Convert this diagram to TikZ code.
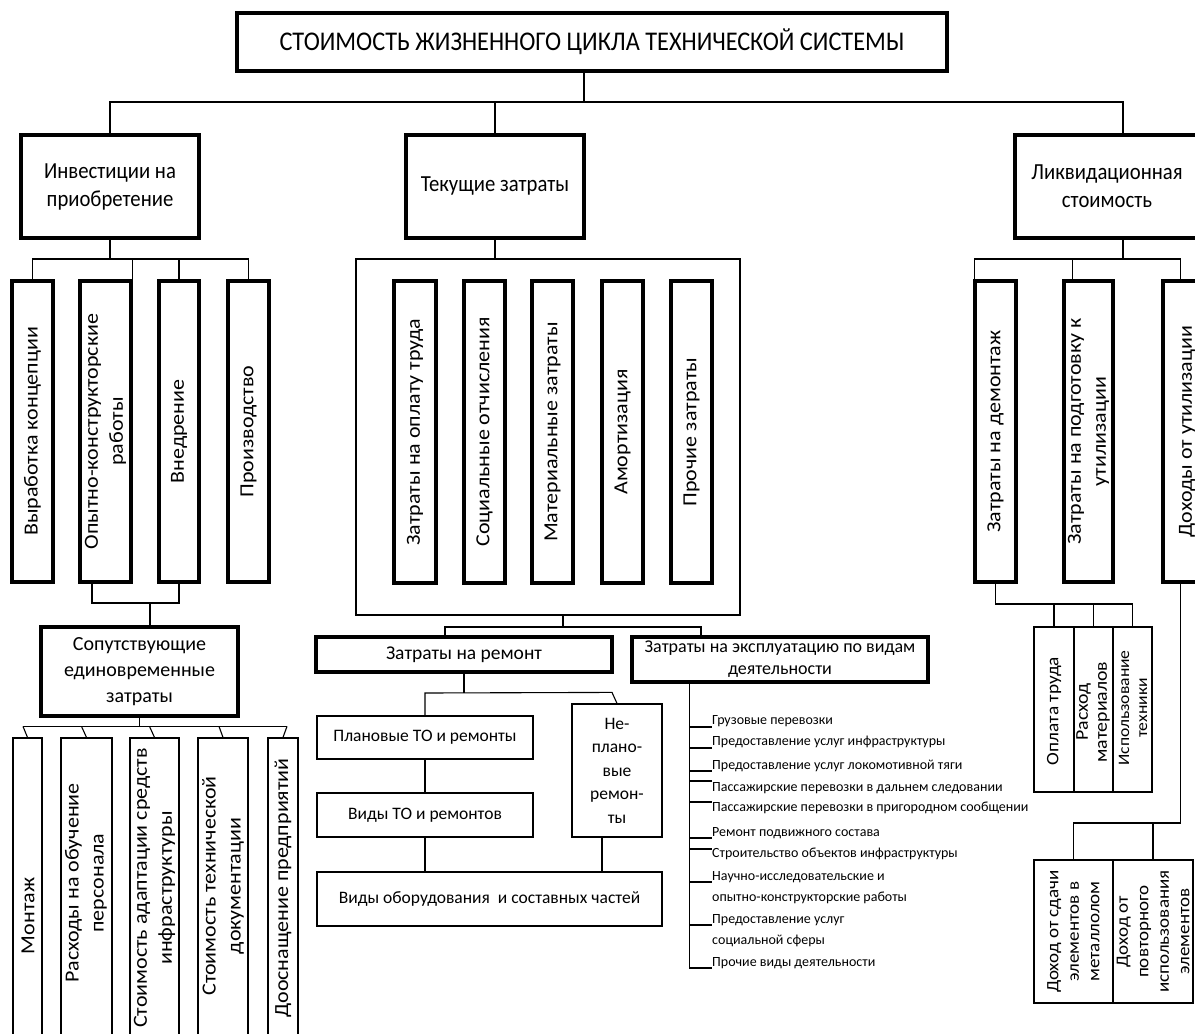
\documentclass[tikz,border=0pt]{standalone}
\usepackage{fontspec}
\usetikzlibrary{calc}
\setmainfont{Carlito}
\newfontfamily\vfam{Carlito}[FakeStretch=1.1]
\newfontfamily\hfam{Carlito}[FakeStretch=0.9]
\newcommand\fsz[2]{\fontsize{#1}{#2}\selectfont}
\tikzset{
  tb/.style={draw, line width=3.3pt, rectangle, inner sep=0pt, align=center},
  nb/.style={draw, line width=1.2pt, rectangle, inner sep=0pt, align=center},
  frm/.style={draw, line width=1.3pt, rectangle, inner sep=0pt},
  vt/.style={rotate=90, align=center, inner sep=0pt, font=\vfam\fsz{20}{25}},
  vts/.style={rotate=90, align=center, inner sep=0pt, font=\vfam\fsz{17}{19}},
  lvl/.style={font=\hfam\fsz{23}{28}},
  item/.style={anchor=west, inner sep=0pt, align=left, font=\fsz{14}{21}},
  conn/.style={line width=1.1pt},
  mconn/.style={line width=2.2pt},
}
\begin{document}
\begin{tikzpicture}[x=1pt,y=-1pt]
\useasboundingbox (0,0) rectangle (1195,1034);
\clip (0,0) rectangle (1195,1034);

% ---- level 0 / 1
\node[tb, minimum width=710, minimum height=58, font=\hfam\fsz{27}{30}] (title) at (592,42) {СТОИМОСТЬ ЖИЗНЕННОГО ЦИКЛА ТЕХНИЧЕСКОЙ СИСТЕМЫ};
\node[tb, lvl, minimum width=178, minimum height=103] (inv) at (110,186.5) {Инвестиции на\\приобретение};
\node[tb, lvl, minimum width=178, minimum height=103] (cur) at (495,186.5) {Текущие затраты};
\node[tb, lvl, minimum width=184, minimum height=103] (liq) at (1107,186.5) {Ликвидационная\\стоимость};

\coordinate (bus0) at (0,102);
\coordinate (titb) at ($(title.south)+(-8,0)$);
\coordinate (liqin) at ($(liq.north)+(16,0)$);
\draw[mconn] (titb) -- (titb |- bus0);
\draw[mconn] (inv.north) -- (inv.north |- bus0) -- (liqin |- bus0) -- (liqin);
\draw[mconn] (cur.north) -- (cur.north |- bus0);

% ---- investments branch
\node[tb, minimum width=41, minimum height=301] (v1) at (32.5,431.5) {};
\node[tb, minimum width=51, minimum height=301] (v2) at (105.5,431.5) {};
\node[tb, minimum width=40, minimum height=301] (v3) at (179,431.5) {};
\node[tb, minimum width=41, minimum height=301] (v4) at (248.5,431.5) {};
\node[vt] (v1x) at (v1) {Выработка концепции};
\node[vt] (v2x) at (v2) {Опытно-конструкторские\\работы};
\node[vt] (v3x) at (v3) {Внедрение};
\node[vt] (v4x) at (v4) {Производство};

\coordinate (vbus) at (0,259);
\coordinate (v2t) at (v2.north east);
\draw[conn] (inv.south) -- (inv.south |- vbus);
\draw[conn] (v1.north) -- (v1.north |- vbus) -- (v4.north |- vbus) -- (v4.north);
\draw[conn] (v2t) -- (v2t |- vbus);
\draw[conn] (v3.north) -- (v3.north |- vbus);

\node[tb, font=\fsz{20}{26}, minimum width=197, minimum height=89] (soput) at (139.5,671.5) {Сопутствующие\\единовременные\\затраты};
\coordinate (vbus2) at (0,603);
\coordinate (v2b) at ($(v2.south)+(-13.5,0)$);
\coordinate (sopt) at ($(soput.north)+(10.5,0)$);
\draw[conn] (v2b) -- (v2b |- vbus2) -- (v3.south |- vbus2) -- (v3.south);
\draw[conn] (sopt) -- (sopt |- vbus2);

\node[nb, minimum width=29, minimum height=312] (s1) at (27.5,894) {};
\node[nb, minimum width=51, minimum height=312] (s2) at (86.5,894) {};
\node[nb, minimum width=49, minimum height=312] (s3) at (154.5,894) {};
\node[nb, minimum width=50, minimum height=312] (s4) at (223,894) {};
\node[nb, minimum width=30, minimum height=312] (s5) at (283,894) {};
\node[vt] (s1x) at (28,916) {Монтаж};
\node[vt] (s2x) at (86,883) {Расходы на обучение\\персонала};
\node[vt] (s3x) at (154.5,888) {Стоимость адаптации средств\\инфраструктуры};
\node[vt] (s4x) at (223,886) {Стоимость технической\\документации};
\node[vt] (s5x) at (283,888) {Дооснащение предприятий};

\coordinate (sbus) at (0,727);
\draw[conn] (soput.south) -- (soput.south |- sbus);
\draw[conn] ($(s1.north)+(-4.5,-11)$) -- ($(s5.north)+(4,-11)$);
\draw[conn] ($(s1.north)+(-4.5,-11)$) -- (s1.north);
\draw[conn] ($(s2.north)+(-5,-11)$) -- (s2.north);
\draw[conn] ($(s3.north)+(-5,-11)$) -- (s3.north);
\draw[conn] ($(s4.north)+(-4,-11)$) -- (s4.north);
\draw[conn] ($(s5.north)+(4,-11)$) -- (s5.north);

% ---- current costs branch
\node[frm, minimum width=384, minimum height=356] (frame) at (548,437) {};
\draw[conn] (cur.south) -- (frame.north -| cur.south);
\node[tb, minimum width=42, minimum height=302] (c1) at (415,432) {};
\node[tb, minimum width=41, minimum height=302] (c2) at (484.5,432) {};
\node[tb, minimum width=41, minimum height=302] (c3) at (552.5,432) {};
\node[tb, minimum width=41, minimum height=302] (c4) at (622.5,432) {};
\node[tb, minimum width=41, minimum height=302] (c5) at (691.5,432) {};
\node[vt] (c1x) at (c1) {Затраты на оплату труда};
\node[vt] (c2x) at (c2) {Социальные отчисления};
\node[vt] (c3x) at (c3) {Материальные затраты};
\node[vt] (c4x) at (c4) {Амортизация};
\node[vt] (c5x) at (c5) {Прочие затраты};

\node[tb, font=\fsz{19.5}{24}, minimum width=296, minimum height=35] (rem) at (464,654.5) {Затраты на ремонт};
\node[tb, font=\fsz{18}{22}, minimum width=296, minimum height=45] (expl) at (780,659.5) {Затраты на эксплуатацию по видам\\деятельности};
\coordinate (cbus) at (0,627);
\coordinate (fb) at ($(frame.south)+(15,0)$);
\coordinate (remt) at ($(rem.north)+(-19,0)$);
\coordinate (explt) at ($(expl.north)+(-79,0)$);
\draw[conn] (fb) -- (fb |- cbus);
\draw[conn] (remt) -- (remt |- cbus) -- (explt |- cbus) -- (explt);

\node[nb, font=\fsz{17.5}{23}, minimum width=216, minimum height=43] (plan) at (425,737.5) {Плановые ТО и ремонты};
\node[nb, font=\fsz{17.5}{23}, minimum width=216, minimum height=44] (vidy) at (425,815) {Виды ТО и ремонтов};
\node[nb, font=\fsz{17.5}{23.5}, minimum width=90, minimum height=133] (nepl) at (617,770.5) {Не-\\плано-\\вые\\ремон-\\ты};
\node[nb, font=\fsz{17.5}{23}, minimum width=345, minimum height=54] (obor) at (489.5,899) {Виды оборудования \ и составных частей};
\coordinate (rbus) at (0,693);
\coordinate (neplb) at ($(nepl.south)+(-15,0)$);
\draw[conn] (rem.south) -- (rem.south |- rbus);
\draw[conn] (plan.north) -- (plan.north |- rbus) -- ($(nepl.north)+(-5,-11)$) -- (nepl.north);
\draw[conn] (plan.south) -- (vidy.north);
\draw[conn] (vidy.south) -- (obor.north -| vidy.south);
\draw[conn] (neplb) -- (obor.north -| neplb);

% exploitation list
\node[item] (e1) at (712,721) {Грузовые перевозки};
\node[item] (e2) at (712,742) {Предоставление услуг инфраструктуры};
\node[item] (e3) at (712,766) {Предоставление услуг локомотивной тяги};
\node[item] (e4) at (712,788) {Пассажирские перевозки в дальнем следовании};
\node[item] (e5) at (712,808) {Пассажирские перевозки в пригородном сообщении};
\node[item] (e6) at (712,833) {Ремонт подвижного состава};
\node[item] (e7) at (712,854) {Строительство объектов инфраструктуры};
\node[item] (e8) at (712,887.5) {Научно-исследовательские и\\опытно-конструкторские работы};
\node[item] (e9) at (712,931) {Предоставление услуг\\социальной сферы};
\node[item] (e10) at (712,963) {Прочие виды деятельности};
\coordinate (exv) at ($(expl.south west)+(59,0)$);
\coordinate (t1) at ($(e1.west)+(0,6)$);
\coordinate (t2) at ($(e2.west)+(0,6)$);
\coordinate (t3) at ($(e3.west)+(0,5)$);
\coordinate (t4) at ($(e4.west)+(0,-7)$);
\coordinate (t5) at ($(e5.west)+(0,-6)$);
\coordinate (t6) at ($(e6.west)+(0,5)$);
\coordinate (t7) at ($(e7.west)+(0,-5)$);
\coordinate (t8) at ($(e8.west)+(0,-5.5)$);
\coordinate (t9) at ($(e9.west)+(0,-6)$);
\coordinate (t10) at ($(e10.west)+(0,5)$);
\draw[conn] (exv) -- (exv |- t10) -- (t10);
\foreach \t in {t1,t2,t3,t4,t5,t6,t7,t8,t9}{
  \draw[conn] (exv |- \t) -- (\t);
}

% ---- liquidation branch
\node[tb, minimum width=41, minimum height=301] (l1) at (995.5,431.5) {};
\node[tb, minimum width=49, minimum height=301] (l2) at (1088.5,431.5) {};
\node[tb, minimum width=48, minimum height=301] (l3) at (1187,431.5) {};
\node[vt] (l1x) at (l1) {Затраты на демонтаж};
\node[vt] (l2x) at (l2) {Затраты на подготовку к\\утилизации};
\node[vt] (l3x) at (l3) {Доходы от утилизации};

\coordinate (lbus) at (0,259);
\coordinate (liqout) at ($(liq.south)+(16,0)$);
\coordinate (l1t) at ($(l1.north west)+(1,0)$);
\coordinate (l2t) at ($(l2.north west)+(10,0)$);
\coordinate (l3t) at ($(l3.north west)+(19,0)$);
\draw[conn] (liqout) -- (liqout |- lbus);
\draw[conn] (l1t) -- (l1t |- lbus) -- (l3t |- lbus) -- (l3t);
\draw[conn] (l2t) -- (l2t |- lbus);

\node[nb, minimum width=40, minimum height=165] (m1) at (1054,709.5) {};
\node[nb, minimum width=39, minimum height=165] (m2) at (1093.5,709.5) {};
\node[nb, minimum width=39, minimum height=165] (m3) at (1132.5,709.5) {};
\node[vts, font=\vfam\fsz{17.5}{20}] (m1x) at (1054,711) {Оплата труда};
\node[vts, font=\vfam\fsz{18}{19}] (m2x) at (1093,712) {Расход\\материалов};
\node[vts, font=\vfam\fsz{16}{18}] (m3x) at (1133,708) {Использование\\техники};
\coordinate (mbus) at (0,604);
\draw[conn] (l1.south) -- (l1.south |- mbus) -- (m3.north |- mbus) -- (m3.north);
\draw[conn] (m1.north) -- (m1.north |- mbus);
\draw[conn] (m2.north) -- (m2.north |- mbus);

\node[nb, minimum width=79, minimum height=143] (d1) at (1073.5,931.5) {};
\node[nb, minimum width=80, minimum height=143] (d2) at (1153,931.5) {};
\node[vts, font=\vfam\fsz{17.3}{20.5}] (d1x) at (d1) {Доход от сдачи\\элементов в\\металлолом};
\node[vts, font=\vfam\fsz{17.3}{20.5}] (d2x) at (d2) {Доход от\\повторного\\использования\\элементов};
\coordinate (dbus) at (0,823);
\coordinate (l3b) at ($(l3.south west)+(19,0)$);
\draw[conn] (l3b) -- (l3b |- dbus) -- (d1.north |- dbus) -- (d1.north);
\draw[conn] (d2.north) -- (d2.north |- dbus);
\end{tikzpicture}
\end{document}
